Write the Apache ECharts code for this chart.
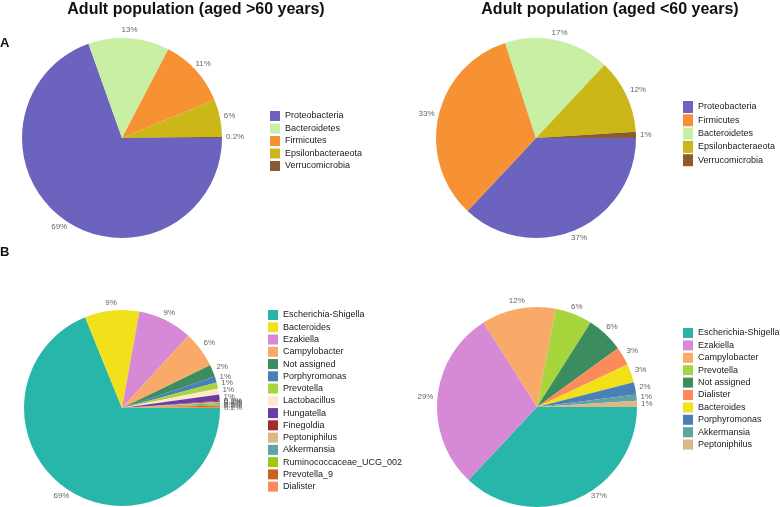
<!DOCTYPE html>
<html>
<head>
<meta charset="utf-8">
<script src="https://cdn.jsdelivr.net/npm/echarts@6/dist/echarts.min.js"></script>
<style>html,body{margin:0;padding:0;background:#fff}#c{width:780px;height:507px}</style>
</head>
<body>
<div id="c"></div>
<script>
// ---- data ----
var phylumOldNames = ['Proteobacteria', 'Bacteroidetes', 'Firmicutes', 'Epsilonbacteraeota', 'Verrucomicrobia'];
var phylumOldValues = [69, 13, 11, 6, 0.2];
var phylumYoungNames = ['Proteobacteria', 'Firmicutes', 'Bacteroidetes', 'Epsilonbacteraeota', 'Verrucomicrobia'];
var phylumYoungValues = [37, 33, 17, 12, 1];
var genusOldNames = ['Escherichia-Shigella', 'Bacteroides', 'Ezakiella', 'Campylobacter', 'Not assigned', 'Porphyromonas', 'Prevotella', 'Lactobacillus', 'Hungatella', 'Finegoldia', 'Peptoniphilus', 'Akkermansia', 'Ruminococcaceae_UCG_002', 'Prevotella_9', 'Dialister'];
var genusOldValues = [69, 9, 9, 6, 2, 1, 1, 1, 1, 0.2, 0.2, 0.2, 0.2, 0.2, 0.2];
var genusYoungNames = ['Escherichia-Shigella', 'Ezakiella', 'Campylobacter', 'Prevotella', 'Not assigned', 'Dialister', 'Bacteroides', 'Porphyromonas', 'Akkermansia', 'Peptoniphilus'];
var genusYoungValues = [37, 29, 12, 6, 6, 3, 3, 2, 1, 1];
var titleOld = 'Adult population (aged >60 years)';
var titleYoung = 'Adult population (aged <60 years)';

// ---- styles ----
var colors = {
  'Proteobacteria': '#6B63BE', 'Bacteroidetes': '#C9EFA4', 'Firmicutes': '#F69233',
  'Epsilonbacteraeota': '#CBB818', 'Verrucomicrobia': '#8B5A32',
  'Escherichia-Shigella': '#28B5AA', 'Bacteroides': '#F1E11A', 'Ezakiella': '#D68AD6',
  'Campylobacter': '#F9AA69', 'Not assigned': '#3B8D5F', 'Porphyromonas': '#4B7FB7',
  'Prevotella': '#A7D63C', 'Lactobacillus': '#FDE8CC', 'Hungatella': '#6A3CA5',
  'Finegoldia': '#A52A2D', 'Peptoniphilus': '#DEB687', 'Akkermansia': '#5FA3A7',
  'Ruminococcaceae_UCG_002': '#9BCB10', 'Prevotella_9': '#C9611F', 'Dialister': '#FB8B5C'
};
var FONT = '"Liberation Sans", Arial, Helvetica, sans-serif';
var MAX_LABEL_Y = 496;

function makeData(names, values) {
  return names.map(function (n, i) {
    return { name: n, value: values[i], itemStyle: { color: colors[n] } };
  });
}

function makeLabelLayout(center) {
  return function (p) {
    var pts = p.labelLinePoints;
    if (!pts || pts.length < 2) return {};
    var dx = pts[1][0] - pts[0][0], dy = pts[1][1] - pts[0][1];
    var l = Math.sqrt(dx * dx + dy * dy) || 1;
    dx /= l; dy /= l;
    var w = p.labelRect.width, h = p.labelRect.height;
    var kx = Math.abs(dx) > 1e-6 ? (w / 2) / Math.abs(dx) : Infinity;
    var ky = Math.abs(dy) > 1e-6 ? (h / 2) / Math.abs(dy) : Infinity;
    var k = Math.min(kx, ky) + 1;
    var x = pts[1][0] + dx * k, y = pts[1][1] + dy * k;
    if (y > MAX_LABEL_Y) {
      // keep the label inside the canvas: slide it along its circle
      var ddx = x - center[0], ddy = y - center[1];
      var D = Math.sqrt(ddx * ddx + ddy * ddy);
      var ny = MAX_LABEL_Y - center[1];
      x = center[0] + (ddx < 0 ? -1 : 1) * Math.sqrt(Math.max(0, D * D - ny * ny));
      y = MAX_LABEL_Y;
    }
    return { x: x, y: y, align: 'center', verticalAlign: 'middle' };
  };
}

function pieSeries(name, names, values, center, r) {
  return {
    type: 'pie',
    name: name,
    center: center,
    radius: r,
    startAngle: 0,
    clockwise: true,
    avoidLabelOverlap: false,
    data: makeData(names, values),
    itemStyle: { borderWidth: 0 },
    label: {
      show: true,
      position: 'outside',
      formatter: function (p) { return p.value + '%'; },
      color: '#666',
      fontSize: 8,
      fontFamily: FONT
    },
    labelLine: { show: true, length: 3, length2: 0, lineStyle: { opacity: 0, width: 0 } },
    labelLayout: makeLabelLayout(center),
    emphasis: { disabled: true }
  };
}

function legend(names, left, top, ih, gap) {
  return {
    data: names,
    orient: 'vertical',
    left: left,
    top: top,
    padding: 0,
    icon: 'rect',
    itemWidth: 10,
    itemHeight: ih,
    itemGap: gap,
    selectedMode: false,
    textStyle: { fontSize: 9, color: '#1a1a1a', fontFamily: FONT }
  };
}

var chart = echarts.init(document.getElementById('c'), null, { renderer: 'canvas' });
chart.setOption({
  animation: false,
  backgroundColor: '#fff',
  legend: [
    legend(phylumOldNames, 270, 111, 10, 2.5),
    legend(phylumYoungNames, 683, 101, 12, 1.3),
    legend(genusOldNames, 268, 310, 10, 2.26),
    legend(genusYoungNames, 683, 328, 10, 2.4)
  ],
  series: [
    pieSeries('old phylum', phylumOldNames, phylumOldValues, [122, 138], 100),
    pieSeries('young phylum', phylumYoungNames, phylumYoungValues, [536, 138], 100),
    pieSeries('old genus', genusOldNames, genusOldValues, [122, 408], 98),
    pieSeries('young genus', genusYoungNames, genusYoungValues, [537, 407], 100)
  ],
  graphic: [
    { type: 'text', x: 196, y: 10, style: { text: titleOld, font: 'bold 16px ' + FONT, fill: '#111', textAlign: 'center', textVerticalAlign: 'middle' } },
    { type: 'text', x: 610, y: 10, style: { text: titleYoung, font: 'bold 16px ' + FONT, fill: '#111', textAlign: 'center', textVerticalAlign: 'middle' } },
    { type: 'text', x: 0, y: 43, style: { text: 'A', font: 'bold 13px ' + FONT, fill: '#111', textAlign: 'left', textVerticalAlign: 'middle' } },
    { type: 'text', x: 0, y: 252, style: { text: 'B', font: 'bold 13px ' + FONT, fill: '#111', textAlign: 'left', textVerticalAlign: 'middle' } }
  ]
});
</script>
</body>
</html>
